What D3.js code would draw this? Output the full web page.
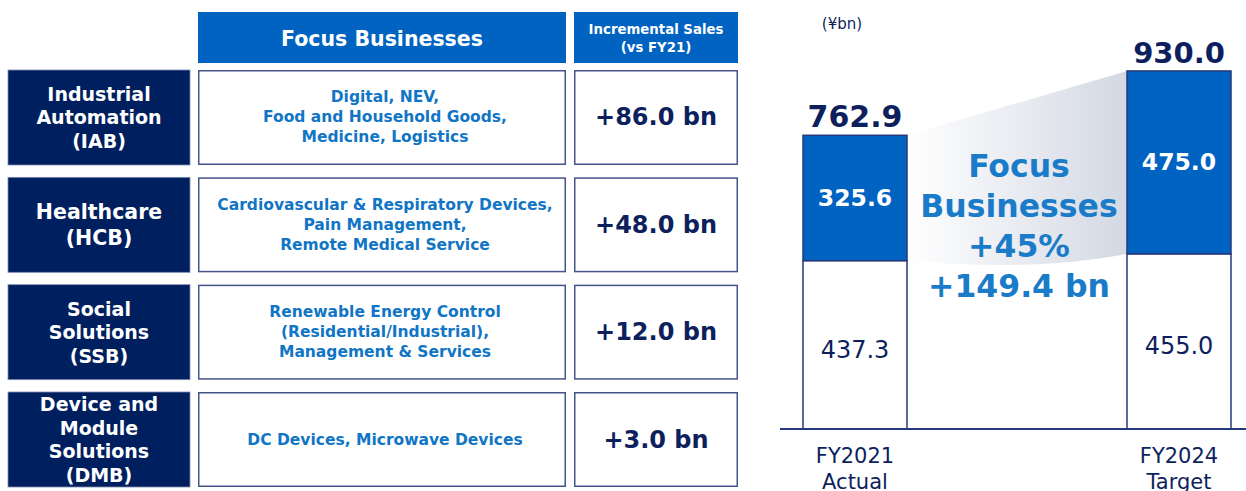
<!DOCTYPE html>
<html><head><meta charset="utf-8">
<script src="https://cdn.jsdelivr.net/npm/d3@7"></script>
<style>html,body{margin:0;padding:0;background:#fff;}svg{display:block;font-family:"DejaVu Sans",Verdana,sans-serif;}</style>
</head><body>
<svg id="c" width="1246" height="491"></svg>
<script>
// ---------- data ----------
const segments = ["IAB", "HCB", "SSB", "DMB"];
const segmentLines = [
  ["Industrial", "Automation", "(IAB)"],
  ["Healthcare", "(HCB)"],
  ["Social", "Solutions", "(SSB)"],
  ["Device and", "Module", "Solutions", "(DMB)"]
];
const focusLines = [
  ["Digital, NEV,", "Food and Household Goods,", "Medicine, Logistics"],
  ["Cardiovascular & Respiratory Devices,", "Pain Management,", "Remote Medical Service"],
  ["Renewable Energy Control", "(Residential/Industrial),", "Management & Services"],
  ["DC Devices, Microwave Devices"]
];
const incrementalSales = [86.0, 48.0, 12.0, 3.0];
const headerFocus = "Focus Businesses";
const headerIncremental = ["Incremental Sales", "(vs FY21)"];

const years = ["FY2021 Actual", "FY2024 Target"];
const yearLines = [["FY2021", "Actual"], ["FY2024", "Target"]];
const focusValues = [325.6, 475.0];
const otherValues = [437.3, 455.0];
const unitLabel = "(\u00a5bn)";
const growthPctLabel = "+45%";

// ---------- styles ----------
const BLUE = "#0063c1", NAVY = "#001f5f", TEXTBLUE = "#1175c6", DARK = "#0d1f5c", BORDER = "#44548a";
const svg = d3.select("#c");

// ---------- table ----------
const rowScale = d3.scaleBand().domain(segments).range([70, 487]).paddingInner(0.115);
const colX = {left: [8, 190], mid: [198, 566], right: [574, 738]};

// headers
svg.append("rect").attr("x", colX.mid[0]).attr("y", 12).attr("width", colX.mid[1] - colX.mid[0]).attr("height", 51).attr("fill", BLUE);
svg.append("rect").attr("x", colX.right[0]).attr("y", 12).attr("width", colX.right[1] - colX.right[0]).attr("height", 51).attr("fill", BLUE);
svg.append("text").attr("x", (colX.mid[0] + colX.mid[1]) / 2).attr("y", 39).attr("text-anchor", "middle")
  .attr("dominant-baseline", "central").attr("fill", "#fff").attr("font-weight", "bold").attr("font-size", 20.5).text(headerFocus);
headerIncremental.forEach((t, i) => {
  svg.append("text").attr("x", (colX.right[0] + colX.right[1]) / 2).attr("y", 29 + i * 18).attr("text-anchor", "middle")
    .attr("dominant-baseline", "central").attr("fill", "#fff").attr("font-weight", "bold").attr("font-size", 13.3).text(t);
});

const rows = svg.selectAll("g.row").data(segments).join("g").attr("class", "row");
rows.append("rect").attr("x", colX.left[0]).attr("y", d => rowScale(d)).attr("width", colX.left[1] - colX.left[0])
  .attr("height", rowScale.bandwidth()).attr("fill", NAVY).attr("stroke", "#7d8bb0").attr("stroke-width", 0.8);
rows.append("rect").attr("x", colX.mid[0] + 0.75).attr("y", d => rowScale(d) + 0.75).attr("width", colX.mid[1] - colX.mid[0] - 1.5)
  .attr("height", rowScale.bandwidth() - 1.5).attr("fill", "#fff").attr("stroke", BORDER).attr("stroke-width", 1.5);
rows.append("rect").attr("x", colX.right[0] + 0.75).attr("y", d => rowScale(d) + 0.75).attr("width", colX.right[1] - colX.right[0] - 1.5)
  .attr("height", rowScale.bandwidth() - 1.5).attr("fill", "#fff").attr("stroke", BORDER).attr("stroke-width", 1.5);

rows.each(function (d, i) {
  const g = d3.select(this);
  const cy = rowScale(d) + rowScale.bandwidth() / 2;
  const big = segmentLines[i].length === 2;
  const lh = big ? 26 : 23.5, fs = big ? 20.5 : 19;
  segmentLines[i].forEach((t, j) => {
    g.append("text").attr("x", (colX.left[0] + colX.left[1]) / 2)
      .attr("y", cy + (j - (segmentLines[i].length - 1) / 2) * lh)
      .attr("text-anchor", "middle").attr("dominant-baseline", "central")
      .attr("fill", "#fff").attr("font-weight", "bold").attr("font-size", fs).text(t);
  });
  focusLines[i].forEach((t, j) => {
    g.append("text").attr("x", (colX.mid[0] + colX.mid[1]) / 2 + 3)
      .attr("y", cy + (j - (focusLines[i].length - 1) / 2) * 20)
      .attr("text-anchor", "middle").attr("dominant-baseline", "central")
      .attr("fill", TEXTBLUE).attr("font-weight", "bold").attr("font-size", 15.5).text(t);
  });
  g.append("text").attr("x", (colX.right[0] + colX.right[1]) / 2).attr("y", cy)
    .attr("text-anchor", "middle").attr("dominant-baseline", "central")
    .attr("fill", DARK).attr("font-weight", "bold").attr("font-size", 24)
    .text("+" + d3.format(".1f")(incrementalSales[i]) + " bn");
});

// ---------- bar chart ----------
const x = d3.scaleBand().domain(years).range([803, 1231]).paddingInner(0.679).paddingOuter(0);
const bw = x.bandwidth();
const y = d3.scaleLinear().domain([0, 1000]).range([429, 44]);
const totals = focusValues.map((f, i) => f + otherValues[i]);

// wedge
const defs = svg.append("defs");
const grad = defs.append("linearGradient").attr("id", "wg").attr("x1", "0").attr("x2", "1").attr("y1", "0").attr("y2", "0");
grad.append("stop").attr("offset", "0").attr("stop-color", "#ffffff");
grad.append("stop").attr("offset", "1").attr("stop-color", "#d3d8e3");
const xL = x(years[0]) + bw, xR = x(years[1]);
const wp = d3.path();
wp.moveTo(xL, y(totals[0]));
wp.lineTo(xR, y(totals[1]));
wp.lineTo(xR, y(otherValues[1]));
wp.quadraticCurveTo((xL + xR) / 2 + 20, y(otherValues[1]) + 18, xL, y(otherValues[0]));
wp.closePath();
svg.append("path").attr("d", wp.toString()).attr("fill", "url(#wg)");

// bars
years.forEach((yr, i) => {
  svg.append("rect").attr("x", x(yr)).attr("y", y(otherValues[i])).attr("width", bw)
    .attr("height", y(0) - y(otherValues[i])).attr("fill", "#fff").attr("stroke", "#26397a").attr("stroke-width", 1.5);
  svg.append("rect").attr("x", x(yr)).attr("y", y(totals[i])).attr("width", bw)
    .attr("height", y(otherValues[i]) - y(totals[i])).attr("fill", BLUE).attr("stroke", "#26397a").attr("stroke-width", 1.5);
  const cx = x(yr) + bw / 2;
  svg.append("text").attr("x", cx).attr("y", (y(otherValues[i]) + y(totals[i])) / 2)
    .attr("text-anchor", "middle").attr("dominant-baseline", "central").attr("fill", "#fff")
    .attr("font-weight", "bold").attr("font-size", 23.5).text(d3.format(".1f")(focusValues[i]));
  svg.append("text").attr("x", cx).attr("y", (y(0) + y(otherValues[i])) / 2 + 5)
    .attr("text-anchor", "middle").attr("dominant-baseline", "central").attr("fill", DARK)
    .attr("font-size", 24).text(d3.format(".1f")(otherValues[i]));
  svg.append("text").attr("x", cx).attr("y", y(totals[i]) - 8)
    .attr("text-anchor", "middle").attr("fill", DARK)
    .attr("font-weight", "bold").attr("font-size", i === 0 ? 30 : 29).text(d3.format(".1f")(totals[i]));
  yearLines[i].forEach((t, j) => {
    svg.append("text").attr("x", cx).attr("y", 456 + j * 26)
      .attr("text-anchor", "middle").attr("dominant-baseline", "central").attr("fill", DARK)
      .attr("font-size", 21).text(t);
  });
});

// axis baseline
svg.append("line").attr("x1", 780).attr("x2", 1246).attr("y1", y(0)).attr("y2", y(0)).attr("stroke", "#26397a").attr("stroke-width", 2);

// unit
svg.append("text").attr("x", 842).attr("y", 24).attr("text-anchor", "middle").attr("dominant-baseline", "central")
  .attr("fill", DARK).attr("font-size", 15).text(unitLabel);

// growth callout
const growthAbs = focusValues[1] - focusValues[0];
const callout = ["Focus", "Businesses", growthPctLabel, "+" + d3.format(".1f")(growthAbs) + " bn"];
callout.forEach((t, j) => {
  svg.append("text").attr("x", (xL + xR) / 2 + 2).attr("y", 166 + j * 40)
    .attr("text-anchor", "middle").attr("dominant-baseline", "central").attr("fill", "#1a7bc9")
    .attr("font-weight", "bold").attr("font-size", 31.5).text(t);
});
</script>
</body></html>
